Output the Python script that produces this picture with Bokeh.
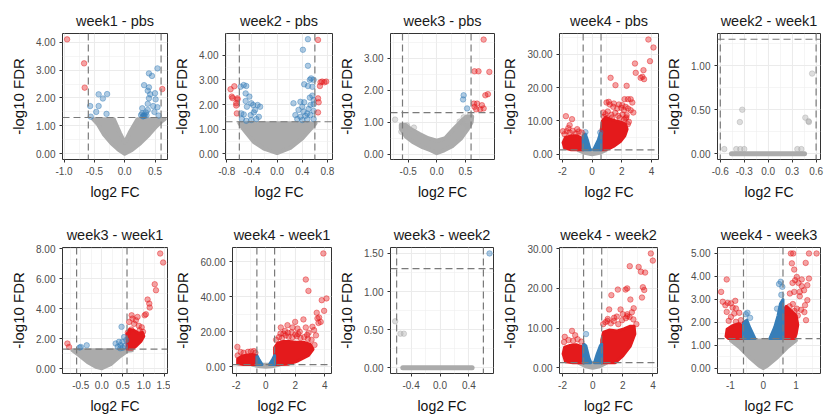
from bokeh.plotting import figure
from bokeh.layouts import row, column
from bokeh.models import Range1d, FixedTicker, PrintfTickFormatter, Span
from bokeh.embed import file_html
from bokeh.resources import INLINE

# ---------------- shared ----------------
FC_CUT = 0.6          # |log2 FC| threshold (dashed verticals)
FDR_CUT = 1.3         # -log10(0.05) (dashed horizontal)
RED = "#E41A1C"
BLUE = "#377EB8"
GRAY = "#ABABAB"
FONT = "Liberation Sans"

# ---------------- week1 - pbs ----------------
W1PBS_XR = (-1.026, 0.706); W1PBS_YR = (-0.205, 4.31)
W1PBS_XT = [-1.0, -0.5, 0.0, 0.5]; W1PBS_YT = [0, 1, 2, 3, 4]
W1PBS_RED_X = [-0.95, -0.67, -0.66, 0.62]
W1PBS_RED_Y = [4.10, 3.24, 2.37, 2.32]
W1PBS_BLUE_X = [-0.43, -0.29, -0.36, -0.57, -0.43, -0.56, -0.30, -0.47,
                0.54, 0.40, 0.45, 0.32, 0.40, 0.38, 0.42, 0.50, 0.40, 0.51,
                0.38, 0.47, 0.29, 0.54, 0.38, 0.49, 0.35, 0.29, 0.32, 0.27,
                0.36, 0.56, 0.31, 0.33, 0.30]
W1PBS_BLUE_Y = [2.13, 2.14, 1.98, 1.71, 1.71, 1.33, 1.43, 1.50,
                3.06, 2.88, 2.79, 2.46, 2.38, 2.26, 2.13, 2.17, 1.99, 1.95,
                1.79, 1.71, 1.63, 1.67, 1.57, 1.50, 1.48, 1.45, 1.39, 1.39,
                1.38, 1.37, 1.35, 1.36, 1.34]
W1PBS_GRAYZONE_X = [-0.52, -0.44, -0.34, -0.22, -0.10, 0.00, 0.12, 0.26, 0.40, 0.52, 0.62, 0.66, 0.21, 0.08, 0.00, -0.08, -0.18]
W1PBS_GRAYZONE_Y = [1.24, 1.05, 0.68, 0.38, 0.14, 0.00, 0.14, 0.38, 0.68, 0.98, 1.18, 1.24, 1.24, 0.75, 0.40, 0.75, 1.24]

# ---------------- week2 - pbs ----------------
W2PBS_XR = (-0.82, 0.88); W2PBS_YR = (-0.23, 4.88)
W2PBS_XT = [-0.8, -0.4, 0.0, 0.4, 0.8]; W2PBS_YT = [0, 1, 2, 3, 4]
W2PBS_RED_X = [0.65, 0.715, 0.69, 0.78, 0.75, 0.68, 0.65, 0.66, 0.65,
               -0.74, -0.68, -0.72, -0.71, -0.63, -0.65, -0.65, -0.64, -0.63]
W2PBS_RED_Y = [4.62, 2.93, 2.90, 2.93, 2.90, 2.75, 2.25, 2.09, 1.68,
               2.62, 2.74, 2.32, 2.26, 2.25, 2.05, 1.96, 1.64, 2.20]
W2PBS_BLUE_X = [-0.53, -0.49, -0.58, -0.50, -0.44, -0.50, -0.41, -0.38, -0.48, -0.31, -0.27,
                -0.35, -0.37, -0.42, -0.53, -0.57, -0.29, -0.33, -0.41, -0.49, -0.56,
                0.49, 0.41, 0.49, 0.54, 0.58, 0.52, 0.43, 0.49, 0.56, 0.56, 0.52, 0.58,
                0.26, 0.37, 0.43, 0.53, 0.58, 0.40, 0.50, 0.58, 0.34, 0.42, 0.48, 0.29,
                0.37, 0.45, 0.53, 0.58, 0.32, 0.40, 0.48]
W2PBS_BLUE_Y = [2.79, 2.75, 2.72, 2.45, 2.32, 2.14, 2.05, 1.98, 1.91, 1.98, 1.91,
                1.78, 1.68, 1.57, 1.60, 1.64, 1.50, 1.41, 1.37, 1.34, 1.41,
                4.65, 4.22, 3.57, 3.06, 3.00, 3.00, 2.82, 2.75, 2.72, 2.36, 2.28, 2.18,
                2.05, 2.11, 2.09, 1.98, 2.01, 1.91, 1.82, 1.74, 1.78, 1.71, 1.64, 1.57,
                1.50, 1.54, 1.57, 1.41, 1.41, 1.37, 1.40]
W2PBS_GRAYZONE_X = [-0.60, -0.55, -0.50, -0.37, -0.21, 0.00, 0.21, 0.40, 0.53, 0.60, 0.61]
W2PBS_GRAYZONE_Y = [1.24, 1.05, 0.89, 0.48, 0.21, 0.03, 0.24, 0.62, 1.00, 1.20, 1.24]

# ---------------- week3 - pbs ----------------
W3PBS_XR = (-0.81, 1.01); W3PBS_YR = (-0.166, 3.77)
W3PBS_XT = [-0.5, 0.0, 0.5]; W3PBS_YT = [0, 1, 2, 3]
W3PBS_RED_X = [0.82, 0.66, 0.73, 0.92, 0.85, 0.895, 0.65, 0.705, 0.66, 0.79, 0.82, 0.76, 0.69]
W3PBS_RED_Y = [3.58, 2.59, 2.59, 2.57, 1.84, 1.875, 1.58, 1.58, 1.48, 1.53, 1.43, 1.40, 1.40]
W3PBS_BLUE_X = [0.47, 0.46, 0.53]
W3PBS_BLUE_Y = [1.84, 1.71, 1.43]
W3PBS_GRAY_X = [-0.73, -0.62, -0.40, -0.52, 0.47, 0.45, 0.54, 0.58, 0.40]
W3PBS_GRAY_Y = [1.08, 0.70, 0.83, 0.90, 1.15, 0.98, 0.88, 1.22, 1.02]
W3PBS_GRAYZONE_X = [-0.63, -0.63, -0.54, -0.42, -0.25, -0.10, 0.00, 0.13, 0.27, 0.42, 0.53,
                    0.61, 0.62, 0.52, 0.42, 0.30, 0.15, 0.00, -0.15, -0.30, -0.45, -0.55]
W3PBS_GRAYZONE_Y = [0.92, 0.80, 0.55, 0.38, 0.22, 0.12, 0.03, 0.12, 0.25, 0.48, 0.75,
                    1.00, 1.18, 1.18, 1.02, 0.80, 0.50, 0.42, 0.50, 0.63, 0.78, 0.92]

# ---------------- week4 - pbs ----------------
W4PBS_XR = (-2.19, 4.46); W4PBS_YR = (-1.6, 36.2)
W4PBS_XT = [-2, 0, 2, 4]; W4PBS_YT = [0, 10, 20, 30]
W4PBS_RED_X = [3.78, 4.12, 3.89, 2.88, 2.93, 3.45, 3.26, 3.49, 3.38, 1.24, 1.57, 2.32, 2.59,
               2.41, 2.18, 2.70, 1.12, 1.46, 1.80, 2.03, 2.25, 0.97, 1.19, 1.42, 1.69, 1.96,
               2.14, 2.41, 2.59, 2.77, 2.25, 2.47, 2.32, -1.76, -1.35, -1.96, -1.51,
               0.75, 0.90, 1.05, 1.30, 1.55, 1.75, 2.05, 2.30, 2.40, 0.80, 1.00, 1.35, 1.85, 2.15,
               -0.70, -0.90, -1.10, -1.30, -1.50, -1.70, -1.85, -1.00, -1.60]
W4PBS_RED_Y = [34.4, 32.0, 27.9, 27.2, 24.4, 25.2, 22.9, 22.5, 23.2, 22.9, 20.7, 20.5, 16.5,
               16.5, 16.5, 15.5, 15.7, 15.2, 14.9, 14.7, 14.2, 15.5, 14.9, 14.2, 13.7, 13.9,
               13.2, 13.7, 13.2, 12.5, 10.7, 9.7, 11.7, 11.4, 10.5, 6.9, 8.7,
               12.5, 12.0, 12.8, 11.8, 12.4, 11.5, 11.9, 11.0, 9.0, 11.2, 10.8, 11.0, 10.9, 10.4,
               6.5, 6.8, 6.2, 7.0, 6.5, 6.9, 6.0, 7.5, 7.8]
W4PBS_BLUE_X = [-0.45, 0.55]
W4PBS_BLUE_Y = [6.6, 6.5]
W4PBS_REDZONE_R_X = [0.60, 0.60, 0.70, 0.90, 1.20, 1.60, 2.00, 2.25, 2.35, 2.20, 1.90, 1.50, 1.10, 0.85]
W4PBS_REDZONE_R_Y = [1.3, 7.0, 10.0, 11.0, 10.5, 10.0, 9.5, 9.0, 7.5, 5.5, 3.8, 2.5, 1.6, 1.3]
W4PBS_REDZONE_L_X = [-0.60, -0.60, -0.75, -1.00, -1.40, -1.80, -1.95, -1.85, -1.40]
W4PBS_REDZONE_L_Y = [1.3, 4.0, 5.0, 5.5, 5.5, 5.0, 3.5, 1.8, 1.3]
W4PBS_BLUEZONE_L_X = [-0.60, -0.60, -0.45, -0.30, -0.15, -0.10]
W4PBS_BLUEZONE_L_Y = [1.3, 5.5, 6.0, 4.0, 1.6, 1.3]
W4PBS_BLUEZONE_R_X = [0.10, 0.15, 0.41, 0.56, 0.60, 0.60]
W4PBS_BLUEZONE_R_Y = [1.3, 1.8, 4.2, 6.3, 6.0, 1.3]
W4PBS_GRAYZONE_X = [-0.92, -0.50, 0.00, 0.50, 0.92]
W4PBS_GRAYZONE_Y = [1.2, 0.4, 0.0, 0.4, 1.2]

# ---------------- week2 - week1 ----------------
W2W1_XR = (-0.635, 0.655); W2W1_YR = (-0.065, 1.365)
W2W1_XT = [-0.6, -0.3, 0.0, 0.3, 0.6]; W2W1_YT = [0.0, 0.5, 1.0]
W2W1_GRAY_X = [-0.55, -0.40, -0.35, -0.30, 0.365, 0.415, -0.325, -0.355, 0.465, 0.505, 0.51, 0.55]
W2W1_GRAY_Y = [0.053, 0.053, 0.053, 0.053, 0.053, 0.053, 0.50, 0.36, 0.41, 0.37, 0.36, 0.91]
W2W1_BAND_X = [-0.46, 0.455]
W2W1_BAND_Y = [0.0, 0.0]

# ---------------- week3 - week1 ----------------
W3W1_XR = (-0.936, 1.564); W3W1_YR = (-0.33, 8.07)
W3W1_XT = [-0.5, 0.0, 0.5, 1.0, 1.5]; W3W1_YT = [0, 2, 4, 6, 8]
W3W1_RED_X = [1.39, 1.46, 1.26, 1.29, 1.09, 1.13, 1.14, 1.02, 1.05, 0.71, 0.73, 0.81,
              0.85, 0.77, 0.65, 0.95, 0.90, 0.88, 0.98, 0.70, 0.62, -0.82, -0.78]
W3W1_RED_Y = [7.67, 7.07, 5.62, 5.22, 4.60, 4.33, 4.07, 3.55, 3.62, 3.55, 3.33, 3.22,
              3.44, 2.98, 3.11, 2.75, 2.55, 2.85, 2.45, 2.60, 2.40, 1.67, 1.44]
W3W1_BLUE_X = [0.47, 0.41, 0.45, 0.33, 0.53, 0.49, -0.36, -0.50, -0.53, 0.55, 0.58, 0.38, 0.50, 0.44]
W3W1_BLUE_Y = [2.78, 1.78, 1.55, 1.67, 2.10, 1.78, 1.55, 1.44, 1.40, 1.50, 1.90, 1.45, 1.38, 1.35]
W3W1_REDZONE_X = [0.60, 0.60, 0.66, 0.76, 0.88, 0.97, 1.00, 0.93, 0.82, 0.72]
W3W1_REDZONE_Y = [1.3, 2.3, 2.6, 2.55, 2.35, 2.4, 2.15, 1.8, 1.5, 1.3]
W3W1_GRAYZONE_X = [-0.70, -0.54, -0.34, -0.14, 0.00, 0.21, 0.41, 0.61, 0.72]
W3W1_GRAYZONE_Y = [1.22, 0.89, 0.44, 0.11, 0.02, 0.29, 0.77, 1.18, 1.22]

# ---------------- week4 - week1 ----------------
W4W1_XR = (-2.25, 4.45); W4W1_YR = (-3.8, 68.2)
W4W1_XT = [-2, 0, 2, 4]; W4W1_YT = [0, 20, 40, 60]
W4W1_RED_X = [3.90, 2.71, 2.89, 4.11, 3.79, 3.95, 3.45, 3.50, 3.61, 3.72, 3.57, 2.55, 1.99,
              1.47, 1.02, 1.81, 2.15, 2.71, 3.16, 3.27, -1.92, 1.30, 1.75, 2.30, 2.90, 3.40,
              2.00, 1.20, -1.70, -1.00,
              0.70, 0.90, 1.10, 1.35, 1.55, 1.80, 2.10, 2.35, 2.60, 2.85, 3.10, 3.30, 1.00, 1.50,
              2.20, 2.80, -1.90, -1.50, -1.20, -0.80, -0.70]
W4W1_RED_Y = [64.8, 49.9, 43.4, 39.1, 38.1, 32.0, 30.9, 27.7, 28.2, 25.7, 25.1, 27.1, 25.7,
              23.8, 22.5, 22.5, 21.9, 22.5, 22.9, 21.0, 11.4, 20.5, 19.8, 20.0, 19.5, 18.0,
              18.5, 19.0, 8.5, 8.8,
              15.5, 17.0, 16.5, 18.0, 17.2, 16.8, 17.5, 16.5, 17.0, 16.0, 15.5, 12.5, 19.0, 19.5,
              18.8, 18.2, 6.5, 8.0, 8.6, 9.0, 8.0]
W4W1_REDZONE_R_X = [0.60, 0.60, 0.80, 1.20, 1.60, 2.00, 2.60, 3.00, 3.20, 2.90, 2.20, 1.50, 1.00]
W4W1_REDZONE_R_Y = [1.3, 11.0, 13.5, 14.5, 14.5, 14.0, 14.0, 13.0, 10.0, 6.5, 3.5, 1.5, 1.3]
W4W1_REDZONE_L_X = [-0.60, -0.60, -0.68, -0.90, -1.20, -1.60, -1.90, -1.90, -1.50]
W4W1_REDZONE_L_Y = [1.3, 4.0, 6.5, 7.0, 6.8, 6.2, 4.5, 1.8, 1.3]
W4W1_BLUEZONE_L_X = [-0.60, -0.60, -0.45, -0.25]
W4W1_BLUEZONE_L_Y = [1.3, 6.5, 4.0, 1.3]
W4W1_BLUEZONE_R_X = [0.25, 0.45, 0.60, 0.60]
W4W1_BLUEZONE_R_Y = [1.3, 4.0, 6.5, 1.3]
W4W1_GRAYZONE_X = [-0.90, -0.40, 0.00, 0.40, 0.90]
W4W1_GRAYZONE_Y = [1.2, 0.3, 0.0, 0.3, 1.2]

# ---------------- week3 - week2 ----------------
W3W2_XR = (-0.685, 0.74); W3W2_YR = (-0.075, 1.578)
W3W2_XT = [-0.4, 0.0, 0.4]; W3W2_YT = [0.0, 0.5, 1.0, 1.5]
W3W2_BLUE_X = [0.685]
W3W2_BLUE_Y = [1.50]
W3W2_GRAY_X = [-0.62, -0.548, -0.50]
W3W2_GRAY_Y = [0.61, 0.447, 0.447]
W3W2_BAND_X = [-0.515, 0.444]
W3W2_BAND_Y = [0.0, 0.0]

# ---------------- week4 - week2 ----------------
W4W2_XR = (-2.2, 4.3); W4W2_YR = (-1.43, 30.3)
W4W2_XT = [-2, 0, 2, 4]; W4W2_YT = [0, 10, 20, 30]
W4W2_RED_X = [3.86, 3.99, 3.05, 3.48, 3.20, 2.46, 3.33, 3.42, 2.18, 2.29, 1.67, 1.24, 3.27,
              2.50, 1.85, 1.09, 2.72, -1.85, -1.37, -1.16, 0.98, 1.42, 2.00, 2.30, 2.60,
              0.70, 0.85, 1.20, 1.40, 1.70, 1.95, 2.20, 2.45, 2.70, 2.90, 1.00, 1.60, 2.30,
              -1.90, -1.60, -1.30, -1.00, -0.75]
W4W2_RED_Y = [28.8, 27.0, 25.4, 24.0, 24.2, 25.6, 20.3, 19.6, 19.7, 20.0, 19.7, 18.3, 17.7,
              17.2, 14.7, 14.7, 15.0, 7.8, 9.3, 8.2, 11.8, 12.6, 13.5, 13.0, 14.0,
              11.0, 11.5, 11.2, 11.8, 11.0, 12.0, 12.5, 12.8, 12.2, 11.0, 12.3, 12.9, 13.5,
              6.5, 7.0, 6.8, 7.2, 6.6]
W4W2_BLUE_X = [-0.44]
W4W2_BLUE_Y = [8.5]
W4W2_REDZONE_R_X = [0.60, 0.60, 0.72, 1.09, 1.63, 2.07, 2.50, 2.75, 2.80, 2.50, 2.00, 1.50]
W4W2_REDZONE_R_Y = [1.3, 7.0, 9.0, 9.5, 9.3, 9.8, 10.5, 10.5, 8.5, 5.5, 3.0, 1.3]
W4W2_REDZONE_L_X = [-0.60, -0.60, -0.77, -1.10, -1.54, -1.86, -1.96, -1.80, -1.30]
W4W2_REDZONE_L_Y = [1.3, 5.0, 5.4, 5.8, 5.6, 5.2, 3.5, 1.5, 1.3]
W4W2_BLUEZONE_L_X = [-0.60, -0.60, -0.45, -0.25, -0.12]
W4W2_BLUEZONE_L_Y = [1.3, 6.0, 5.5, 2.5, 1.3]
W4W2_BLUEZONE_R_X = [0.12, 0.30, 0.50, 0.60, 0.60]
W4W2_BLUEZONE_R_Y = [1.3, 3.5, 5.5, 6.0, 1.3]
W4W2_GRAYZONE_X = [-0.90, -0.40, 0.00, 0.40, 0.90]
W4W2_GRAYZONE_Y = [1.2, 0.3, 0.0, 0.3, 1.2]

# ---------------- week4 - week3 ----------------
W4W3_XR = (-1.39, 1.74); W4W3_YR = (-0.22, 5.26)
W4W3_XT = [-1, 0, 1]; W4W3_YT = [0, 1, 2, 3, 4, 5]
W4W3_RED_X = [0.84, 0.91, 1.39, 1.62, 0.87, 1.29, 0.94, 1.02, 1.17, 1.39, 0.97, 0.89, 1.07,
              1.17, 1.34, 1.24, 1.11, 0.94, 0.81, 1.11, 1.34, 1.27, 0.90, 0.80, 1.02, 1.15,
              0.95, 0.75, 1.05, 1.25, 1.30,
              -1.11, -1.28, -0.85, -1.23, -1.08, -0.98, -1.15, -0.93, -0.83, -1.11, -0.88,
              -0.73, -0.98, -1.05, -0.83, -0.68]
W4W3_RED_Y = [5.0, 5.0, 5.0, 5.0, 4.57, 4.59, 4.30, 3.98, 3.87, 3.91, 3.84, 3.72, 3.72,
              3.58, 3.62, 3.40, 3.33, 3.33, 3.26, 3.14, 2.97, 2.75, 2.80, 2.70, 2.60, 2.55,
              2.50, 2.40, 2.30, 2.45, 2.10,
              3.87, 3.33, 2.94, 2.90, 2.85, 2.83, 2.75, 2.65, 2.61, 2.46, 2.39,
              2.42, 2.24, 2.07, 2.03, 2.10]
W4W3_BLUE_X = [0.53, 0.48, 0.58, -0.48, -0.53, -0.40, 0.42, 0.55]
W4W3_BLUE_Y = [3.77, 3.67, 3.55, 2.42, 2.36, 2.20, 2.60, 3.20]
W4W3_REDZONE_R_X = [0.60, 0.60, 0.70, 0.85, 1.00, 1.05, 1.00, 0.95]
W4W3_REDZONE_R_Y = [1.3, 2.5, 2.7, 2.5, 2.3, 1.9, 1.5, 1.3]
W4W3_REDZONE_L_X = [-0.60, -0.60, -0.75, -0.95, -1.10, -1.13, -1.05]
W4W3_REDZONE_L_Y = [1.3, 1.85, 1.95, 1.85, 1.7, 1.4, 1.3]
W4W3_BLUEZONE_L_X = [-0.60, -0.60, -0.50, -0.40, -0.30, -0.25]
W4W3_BLUEZONE_L_Y = [1.3, 2.0, 2.1, 1.75, 1.45, 1.3]
W4W3_BLUEZONE_R_X = [0.20, 0.35, 0.45, 0.52, 0.60, 0.60]
W4W3_BLUEZONE_R_Y = [1.3, 1.8, 2.3, 2.8, 3.0, 1.3]
W4W3_GRAYZONE_X = [-0.98, -0.73, -0.42, -0.12, 0.00, 0.12, 0.43, 0.74, 0.99]
W4W3_GRAYZONE_Y = [1.22, 0.94, 0.49, 0.12, 0.02, 0.12, 0.49, 0.94, 1.22]


def minors(t):
    step = t[1] - t[0]
    return [t[0] - step / 2] + [a + step / 2 for a in t]


def panel(title, xr, yr, xt, xfmt, yt, w, h, bl, br, bb,
          gray_zones=(), red_zones=(), blue_zones=(), bands=(),
          gray=None, blue=None, red=None):
    p = figure(width=w, height=h, x_range=Range1d(*xr), y_range=Range1d(*yr),
               output_backend="svg", toolbar_location=None, title=title,
               min_border_left=bl, min_border_right=br, min_border_top=33,
               min_border_bottom=bb, background_fill_color="white",
               border_fill_color="white")
    p.title.text_font = FONT
    p.title.text_font_size = "14.5px"
    p.title.text_font_style = "normal"
    p.title.text_color = "#1a1a1a"
    p.title.align = "center"
    p.title.standoff = 10
    p.outline_line_color = "#333333"
    p.outline_line_width = 1

    p.xaxis.ticker = FixedTicker(ticks=xt, minor_ticks=minors(xt))
    p.yaxis.ticker = FixedTicker(ticks=yt, minor_ticks=minors(yt))
    p.xaxis.formatter = PrintfTickFormatter(format=xfmt)
    p.yaxis.formatter = PrintfTickFormatter(format="%.2f")
    p.xaxis.axis_label = "log2 FC"
    p.yaxis.axis_label = "-log10 FDR"
    for ax in (p.xaxis, p.yaxis):
        ax.axis_line_color = None
        ax.major_tick_line_color = "#333333"
        ax.major_tick_in = 0
        ax.major_tick_out = 3
        ax.minor_tick_line_color = None
        ax.major_label_text_font = FONT
        ax.major_label_text_font_size = "10px"
        ax.major_label_text_color = "#4d4d4d"
        ax.major_label_standoff = 3
        ax.axis_label_text_font = FONT
        ax.axis_label_text_font_style = "normal"
        ax.axis_label_text_color = "#111111"
        ax.axis_label_standoff = 6
    p.xaxis.axis_label_text_font_size = "14px"
    p.yaxis.axis_label_text_font_size = "15px"
    for g in (p.xgrid, p.ygrid):
        g.grid_line_color = "#EBEBEB"
        g.grid_line_width = 1.1
        g.minor_grid_line_color = "#EFEFEF"
        g.minor_grid_line_width = 0.6

    for xs, ys in gray_zones:
        p.patch(xs, ys, fill_color=GRAY, line_color=GRAY, line_width=4, line_join="round")
    for xs, ys in bands:
        p.line(xs, ys, line_color=GRAY, line_width=5, line_cap="round")
    for xs, ys in red_zones:
        p.patch(xs, ys, fill_color=RED, line_color=RED, line_width=3, line_join="round")
    for xs, ys in blue_zones:
        p.patch(xs, ys, fill_color=BLUE, line_color=BLUE, line_width=3, line_join="round")
    for pts, col in ((gray, GRAY), (blue, BLUE), (red, RED)):
        if pts:
            p.scatter(pts[0], pts[1], size=5.5, fill_color=col, fill_alpha=0.4,
                      line_color=col, line_alpha=0.45, line_width=1)

    for v in (-FC_CUT, FC_CUT):
        p.add_layout(Span(location=v, dimension="height", line_color="#7a7a7a",
                          line_width=1.2, line_dash="7 4"))
    p.add_layout(Span(location=FDR_CUT, dimension="width", line_color="#7a7a7a",
                      line_width=1.2, line_dash="7 4"))
    return p


H1, H2 = 214, 204
B1, B2 = H1 - 159, H2 - 159

p1 = panel("week1 - pbs", W1PBS_XR, W1PBS_YR, W1PBS_XT, "%.1f", W1PBS_YT, 170, H1, 62, 3, B1,
           gray_zones=[(W1PBS_GRAYZONE_X, W1PBS_GRAYZONE_Y)],
           blue=(W1PBS_BLUE_X, W1PBS_BLUE_Y), red=(W1PBS_RED_X, W1PBS_RED_Y))
p2 = panel("week2 - pbs", W2PBS_XR, W2PBS_YR, W2PBS_XT, "%.1f", W2PBS_YT, 165, H1, 55, 3, B1,
           gray_zones=[(W2PBS_GRAYZONE_X, W2PBS_GRAYZONE_Y)],
           blue=(W2PBS_BLUE_X, W2PBS_BLUE_Y), red=(W2PBS_RED_X, W2PBS_RED_Y))
p3 = panel("week3 - pbs", W3PBS_XR, W3PBS_YR, W3PBS_XT, "%.1f", W3PBS_YT, 162, H1, 54, 3, B1,
           gray_zones=[(W3PBS_GRAYZONE_X, W3PBS_GRAYZONE_Y)],
           gray=(W3PBS_GRAY_X, W3PBS_GRAY_Y),
           blue=(W3PBS_BLUE_X, W3PBS_BLUE_Y), red=(W3PBS_RED_X, W3PBS_RED_Y))
p4 = panel("week4 - pbs", W4PBS_XR, W4PBS_YR, W4PBS_XT, "%d", W4PBS_YT, 164, H1, 62, 3, B1,
           gray_zones=[(W4PBS_GRAYZONE_X, W4PBS_GRAYZONE_Y)],
           red_zones=[(W4PBS_REDZONE_R_X, W4PBS_REDZONE_R_Y), (W4PBS_REDZONE_L_X, W4PBS_REDZONE_L_Y)],
           blue_zones=[(W4PBS_BLUEZONE_L_X, W4PBS_BLUEZONE_L_Y), (W4PBS_BLUEZONE_R_X, W4PBS_BLUEZONE_R_Y)],
           blue=(W4PBS_BLUE_X, W4PBS_BLUE_Y), red=(W4PBS_RED_X, W4PBS_RED_Y))
p5 = panel("week2 - week1", W2W1_XR, W2W1_YR, W2W1_XT, "%.1f", W2W1_YT, 163, H1, 56, 4, B1,
           bands=[(W2W1_BAND_X, W2W1_BAND_Y)], gray=(W2W1_GRAY_X, W2W1_GRAY_Y))

p6 = panel("week3 - week1", W3W1_XR, W3W1_YR, W3W1_XT, "%.1f", W3W1_YT, 170, H2, 62, 3, B2,
           gray_zones=[(W3W1_GRAYZONE_X, W3W1_GRAYZONE_Y)],
           red_zones=[(W3W1_REDZONE_X, W3W1_REDZONE_Y)],
           blue=(W3W1_BLUE_X, W3W1_BLUE_Y), red=(W3W1_RED_X, W3W1_RED_Y))
p7 = panel("week4 - week1", W4W1_XR, W4W1_YR, W4W1_XT, "%d", W4W1_YT, 165, H2, 62, 4, B2,
           gray_zones=[(W4W1_GRAYZONE_X, W4W1_GRAYZONE_Y)],
           red_zones=[(W4W1_REDZONE_R_X, W4W1_REDZONE_R_Y), (W4W1_REDZONE_L_X, W4W1_REDZONE_L_Y)],
           blue_zones=[(W4W1_BLUEZONE_L_X, W4W1_BLUEZONE_L_Y), (W4W1_BLUEZONE_R_X, W4W1_BLUEZONE_R_Y)],
           red=(W4W1_RED_X, W4W1_RED_Y))
p8 = panel("week3 - week2", W3W2_XR, W3W2_YR, W3W2_XT, "%.1f", W3W2_YT, 162, H2, 54, 4, B2,
           bands=[(W3W2_BAND_X, W3W2_BAND_Y)], gray=(W3W2_GRAY_X, W3W2_GRAY_Y),
           blue=(W3W2_BLUE_X, W3W2_BLUE_Y))
p9 = panel("week4 - week2", W4W2_XR, W4W2_YR, W4W2_XT, "%d", W4W2_YT, 164, H2, 62, 4, B2,
           gray_zones=[(W4W2_GRAYZONE_X, W4W2_GRAYZONE_Y)],
           red_zones=[(W4W2_REDZONE_R_X, W4W2_REDZONE_R_Y), (W4W2_REDZONE_L_X, W4W2_REDZONE_L_Y)],
           blue_zones=[(W4W2_BLUEZONE_L_X, W4W2_BLUEZONE_L_Y), (W4W2_BLUEZONE_R_X, W4W2_BLUEZONE_R_Y)],
           blue=(W4W2_BLUE_X, W4W2_BLUE_Y), red=(W4W2_RED_X, W4W2_RED_Y))
p10 = panel("week4 - week3", W4W3_XR, W4W3_YR, W4W3_XT, "%d", W4W3_YT, 163, H2, 56, 4, B2,
            gray_zones=[(W4W3_GRAYZONE_X, W4W3_GRAYZONE_Y)],
            red_zones=[(W4W3_REDZONE_R_X, W4W3_REDZONE_R_Y), (W4W3_REDZONE_L_X, W4W3_REDZONE_L_Y)],
            blue_zones=[(W4W3_BLUEZONE_L_X, W4W3_BLUEZONE_L_Y), (W4W3_BLUEZONE_R_X, W4W3_BLUEZONE_R_Y)],
            blue=(W4W3_BLUE_X, W4W3_BLUE_Y), red=(W4W3_RED_X, W4W3_RED_Y))

layout = column(row(p1, p2, p3, p4, p5), row(p6, p7, p8, p9, p10))
open("out.html", "w").write(file_html(layout, INLINE))
